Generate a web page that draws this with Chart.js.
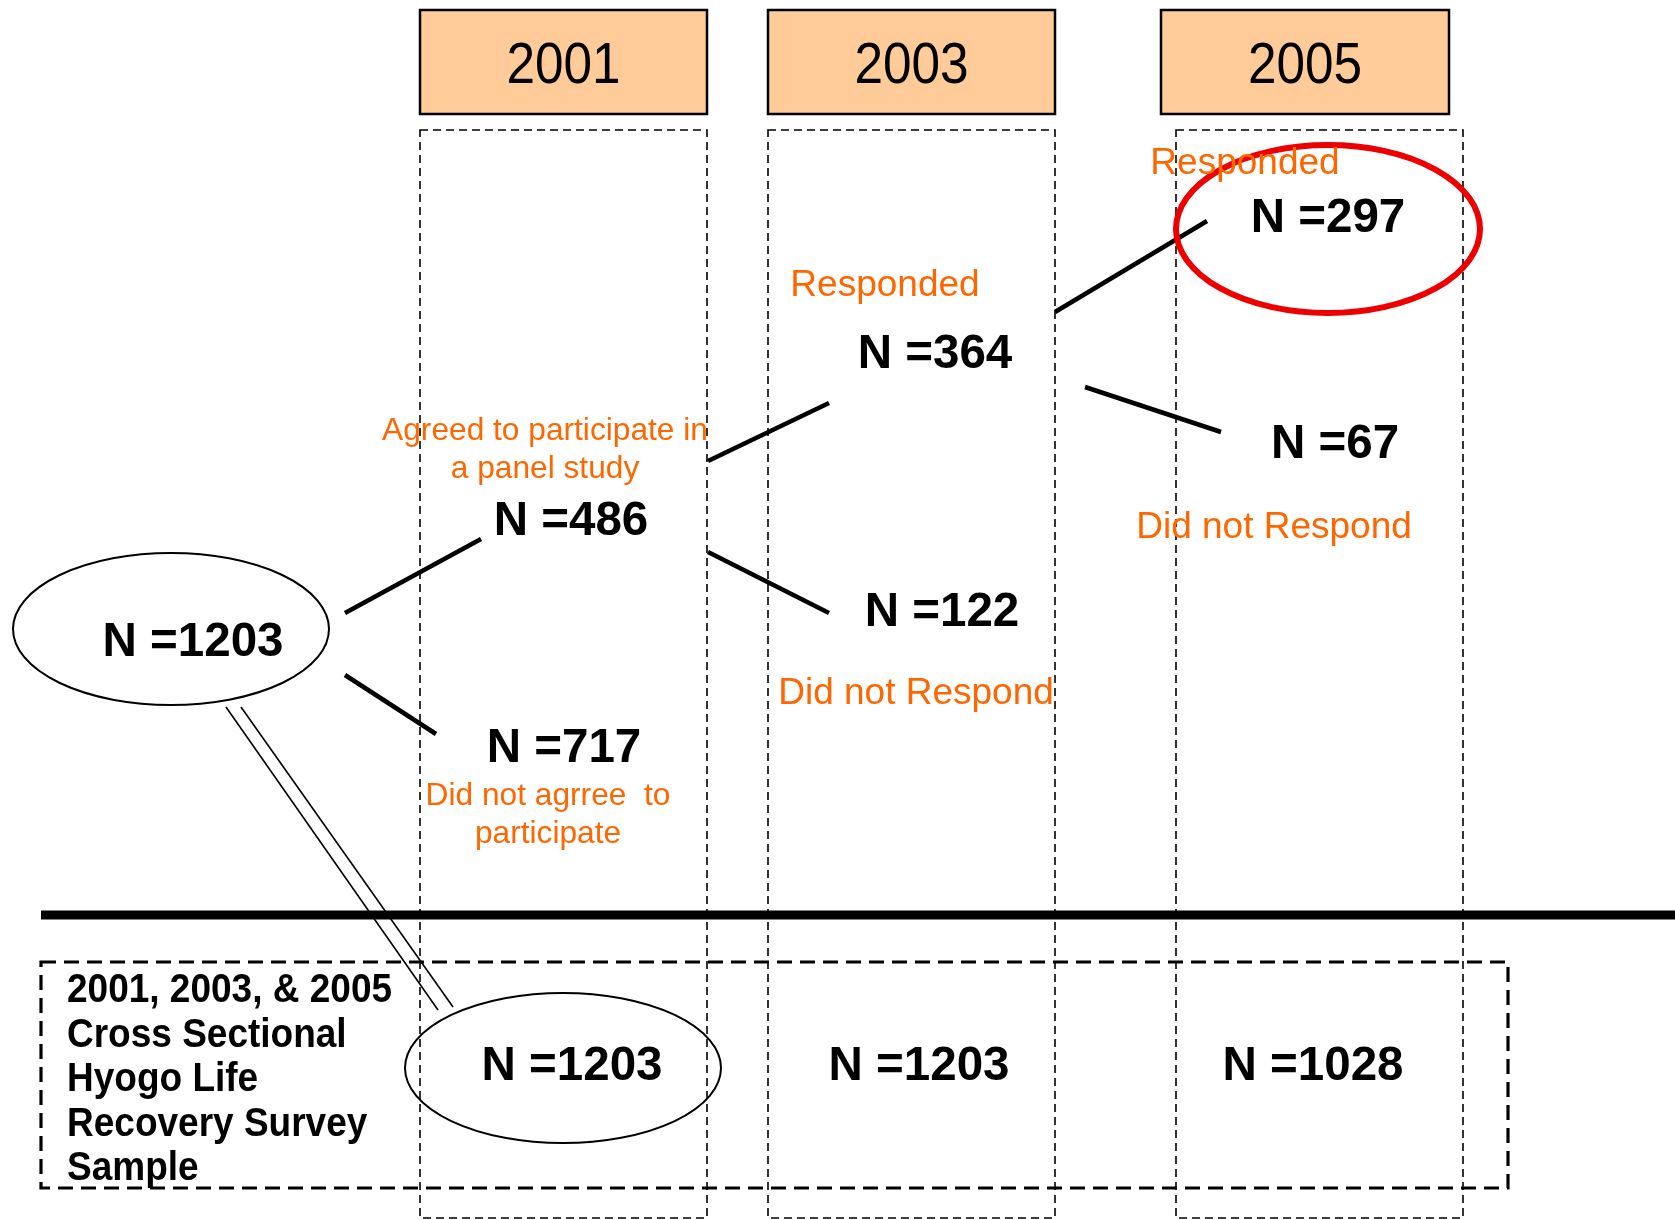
<!DOCTYPE html>
<html>
<head>
<meta charset="utf-8">
<script src="https://cdn.jsdelivr.net/npm/chart.js@4.4.1/dist/chart.umd.min.js"></script>
<style>
  body { margin: 0; background: #fff; }
  #wrap { width: 1675px; height: 1220px; }
</style>
</head>
<body>
<div id="wrap"><canvas id="flowChart" width="1675" height="1220"></canvas></div>
<script>
'use strict';

// survey waves
var years = ['2001', '2003', '2005'];

// panel study counts: baseline, agreed, refused, 2003 resp, 2003 non-resp, 2005 resp, 2005 non-resp
var panelCounts = [1203, 486, 717, 364, 122, 297, 67];

// cross sectional sample per wave
var crossCounts = [1203, 1203, 1028];

// orange notes
var panelNotes = [
    ['Agreed to participate in', 'a panel study'],
    ['Did not agrree  to', 'participate'],
    ['Responded'],
    ['Did not Respond'],
    ['Responded'],
    ['Did not Respond']
];

var crossTitle = ['2001, 2003, & 2005', 'Cross Sectional', 'Hyogo Life', 'Recovery Survey', 'Sample'];

/*
 * layout (diagram units = pixels of the 1675 x 1220 page, y down)
 */
var layout = {
    yearBoxes: [[420, 10, 707, 114], [768, 10, 1055, 114], [1161, 10, 1449, 114]],
    columns: [[420, 130, 707, 1218], [768, 130, 1055, 1218], [1176, 130, 1463, 1218]],
    nodes: [[193, 639], [571, 518], [564, 745], [935, 351], [942, 609], [1328, 215], [1335, 441]],
    crossNodes: [[572, 1063], [919, 1063], [1313, 1063]],
    notes: [[545, 429], [548, 794], [885, 283], [916, 691], [1245, 161], [1274, 525]],
    connectors: [
        [345, 613, 481, 539],
        [345, 675, 436, 734],
        [708, 461, 829, 403],
        [708, 552, 829, 613],
        [1055, 312, 1207, 221],
        [1085, 387, 1221, 432]
    ],
    doubleLine: [[226, 707, 438, 1010], [241, 707, 453, 1007]],
    divider: [41, 915, 1675],
    crossBox: [41, 962, 1508, 1188],
    crossTitle: [67, 988, 44.5],
    ellipses: [[171, 629, 158, 76], [563, 1068, 158, 75]],
    highlight: [1328, 229, 152, 84]
};

var ORANGE = '#FF6600';

function drawText(ctx, text, x, y, size, bold, color, squeeze, align) {
    ctx.save();
    ctx.font = (bold ? 'bold ' : '') + size + 'px "Liberation Sans", Arial, sans-serif';
    ctx.fillStyle = color;
    ctx.textBaseline = 'alphabetic';
    ctx.textAlign = align || 'center';
    ctx.translate(x, y + size * 0.358);
    ctx.scale(squeeze, 1);
    ctx.fillText(text, 0, 0);
    ctx.restore();
}

var diagramPlugin = {
    id: 'diagram',
    afterDatasetsDraw: function(chart) {
        var ctx = chart.ctx;
        var sx = chart.scales.x, sy = chart.scales.y;
        function px(v) { return sx.getPixelForValue(v); }
        function py(v) { return sy.getPixelForValue(v); }

        function line(a, w, dash) {
            ctx.save();
            ctx.lineWidth = w;
            ctx.strokeStyle = '#000';
            ctx.setLineDash(dash || []);
            ctx.beginPath();
            ctx.moveTo(px(a[0]), py(a[1]));
            ctx.lineTo(px(a[2]), py(a[3]));
            ctx.stroke();
            ctx.restore();
        }
        function rect(r, w, dash, fill) {
            ctx.save();
            var x0 = px(r[0]), y0 = py(r[1]), x1 = px(r[2]), y1 = py(r[3]);
            if (fill) {
                ctx.fillStyle = fill;
                ctx.fillRect(x0, y0, x1 - x0, y1 - y0);
            }
            ctx.lineWidth = w;
            ctx.strokeStyle = '#000';
            ctx.setLineDash(dash || []);
            ctx.strokeRect(x0, y0, x1 - x0, y1 - y0);
            ctx.restore();
        }
        function ellipse(e, w, color) {
            ctx.save();
            ctx.lineWidth = w;
            ctx.strokeStyle = color;
            ctx.beginPath();
            ctx.ellipse(px(e[0]), py(e[1]), Math.abs(px(e[2]) - px(0)), Math.abs(py(e[3]) - py(0)), 0, 0, Math.PI * 2);
            ctx.stroke();
            ctx.restore();
        }

        // dashed year columns
        layout.columns.forEach(function(c) { rect(c, 1.6, [8, 5]); });

        // year header boxes
        layout.yearBoxes.forEach(function(b, i) {
            rect(b, 2.5, null, '#FFCC99');
            drawText(ctx, years[i], px((b[0] + b[2]) / 2), py((b[1] + b[3]) / 2), 58, false, '#000', 0.885);
        });

        // divider between panel and cross sectional part
        ctx.save();
        ctx.fillStyle = '#000';
        ctx.fillRect(px(layout.divider[0]), py(layout.divider[1]) - 4.5, px(layout.divider[2]) - px(layout.divider[0]), 9);
        ctx.restore();

        // cross sectional box
        rect(layout.crossBox, 3.2, [15, 8]);

        // connectors
        layout.connectors.forEach(function(c) { line(c, 4.5); });
        layout.doubleLine.forEach(function(c) { line(c, 1.6); });

        // ellipses
        layout.ellipses.forEach(function(e) { ellipse(e, 2, '#000'); });
        ellipse(layout.highlight, 6, '#EE0000');

        // panel counts from dataset points
        var meta = chart.getDatasetMeta(0);
        meta.data.forEach(function(pt, i) {
            drawText(ctx, 'N =' + panelCounts[i], pt.x, pt.y, 48, true, '#000', 0.99);
        });
        var meta2 = chart.getDatasetMeta(1);
        meta2.data.forEach(function(pt, i) {
            drawText(ctx, 'N =' + crossCounts[i], pt.x, pt.y, 48, true, '#000', 0.99);
        });

        // orange notes
        panelNotes.forEach(function(lines, i) {
            var p = layout.notes[i];
            lines.forEach(function(t, k) {
                drawText(ctx, t, px(p[0]), py(p[1] + k * 38), i < 2 ? 32 : 37, false, ORANGE, i < 2 ? 0.99 : 1.0);
            });
        });

        // cross sectional title
        crossTitle.forEach(function(t, k) {
            var ct = layout.crossTitle;
            drawText(ctx, t, px(ct[0]), py(ct[1] + k * ct[2]), 40, true, '#000', 0.925, 'left');
        });
    }
};

var ctx = document.getElementById('flowChart').getContext('2d');
window.flowChart = new Chart(ctx, {
    type: 'scatter',
    data: {
        datasets: [{
            label: 'Panel',
            data: panelCounts.map(function(v, i) { return { x: layout.nodes[i][0], y: layout.nodes[i][1] }; }),
            pointRadius: 0
        }, {
            label: 'Cross sectional',
            data: crossCounts.map(function(v, i) { return { x: layout.crossNodes[i][0], y: layout.crossNodes[i][1] }; }),
            pointRadius: 0
        }]
    },
    options: {
        responsive: false,
        animation: false,
        devicePixelRatio: 1,
        layout: { padding: 0 },
        plugins: {
            legend: { display: false },
            tooltip: { enabled: false }
        },
        scales: {
            x: { type: 'linear', min: 0, max: 1675, display: false },
            y: { type: 'linear', min: 0, max: 1220, reverse: true, display: false }
        }
    },
    plugins: [diagramPlugin]
});
</script>
</body>
</html>
